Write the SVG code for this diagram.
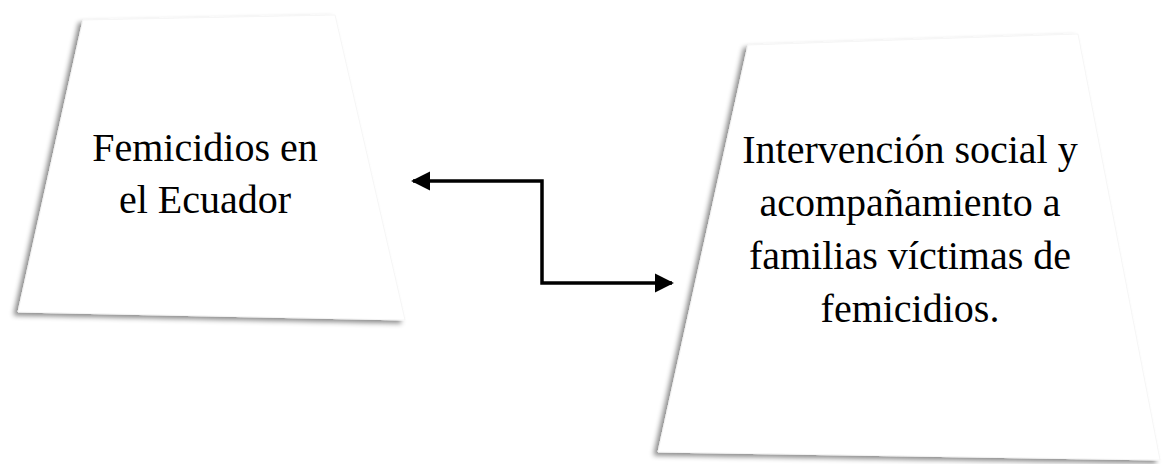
<svg xmlns="http://www.w3.org/2000/svg" width="1170" height="464" viewBox="0 0 1170 464">
<style>
.sheet{fill:#fff;stroke:#f6f6f6;stroke-width:1;filter:url(#sh)}
.lbl{font-family:"Liberation Serif","Times New Roman",serif;font-size:40px;fill:#000;text-anchor:middle}
.conn{fill:none;stroke:#000;stroke-width:3.5}
</style>
<defs>
<filter id="sh" x="-10%" y="-10%" width="120%" height="120%">
<feDropShadow dx="-4" dy="3" stdDeviation="2.5" flood-color="#000" flood-opacity="0.45"/>
</filter>
<marker id="ah" viewBox="0 0 10 10" refX="9" refY="5" markerWidth="5.5" markerHeight="5.5" orient="auto-start-reverse" markerUnits="strokeWidth">
<path d="M0,0 L10,5 L0,10 z" fill="#000"/>
</marker>
</defs>
<rect width="1170" height="464" fill="#fff"/>
<g id="node-femicidios">
<path class="sheet" d="M83,20 L335,15 L405,320 L18,312 Z"/>
<text class="lbl" x="205" y="161">Femicidios en</text>
<text class="lbl" x="205" y="213">el Ecuador</text>
</g>
<g id="node-intervencion">
<path class="sheet" d="M748,45 L1078,34 L1160,460 L658,452 Z"/>
<text class="lbl" x="910" y="163">Intervención social y</text>
<text class="lbl" x="910" y="216">acompañamiento a</text>
<text class="lbl" x="910" y="269">familias víctimas de</text>
<text class="lbl" x="910" y="322">femicidios.</text>
</g>
<g id="connectors">
<path class="conn" d="M413,181 L542,181 L542,283 L672,283" marker-start="url(#ah)" marker-end="url(#ah)"/>
</g>
</svg>
